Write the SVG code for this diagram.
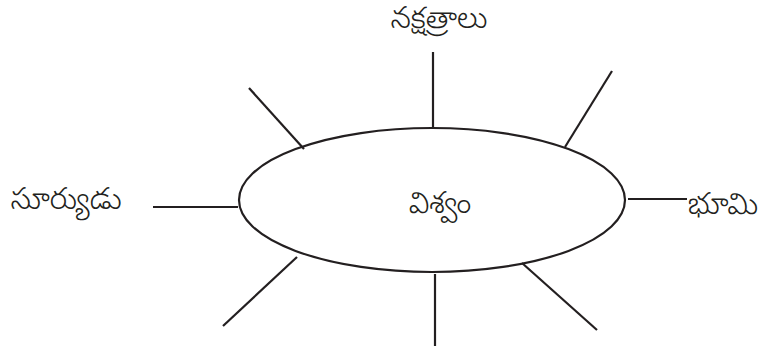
<svg xmlns="http://www.w3.org/2000/svg" width="762" height="351" viewBox="0 0 762 351">
<style>
.ln{stroke:#231f20;stroke-width:2.2;fill:none;stroke-linecap:butt}
.t{font-family:"Noto Sans Telugu","Noto Sans","DejaVu Sans",sans-serif;font-size:30px;font-weight:300;fill:#231f20}
</style>
<rect width="762" height="351" fill="#fff"/>
<g id="connectors">
<line class="ln" x1="433" y1="52" x2="433" y2="127"/>
<line class="ln" x1="249" y1="88" x2="304" y2="149"/>
<line class="ln" x1="612" y1="71" x2="565" y2="147"/>
<line class="ln" x1="153" y1="207" x2="238" y2="207"/>
<line class="ln" x1="628" y1="199" x2="687" y2="199"/>
<line class="ln" x1="297" y1="257" x2="223" y2="326"/>
<line class="ln" x1="435" y1="274" x2="435" y2="346"/>
<line class="ln" x1="522" y1="263" x2="597" y2="330"/>
</g>
<g id="center">
<ellipse class="ln" cx="432" cy="200" rx="193" ry="72"/>
<text class="t" x="440" y="213" text-anchor="middle">విశ్వం</text>
</g>
<g id="top"><text class="t" x="439" y="28" text-anchor="middle">నక్షత్రాలు</text></g>
<g id="left"><text class="t" x="66" y="209" text-anchor="middle">సూర్యుడు</text></g>
<g id="right"><text class="t" x="723" y="214" text-anchor="middle">భూమి</text></g>
</svg>
